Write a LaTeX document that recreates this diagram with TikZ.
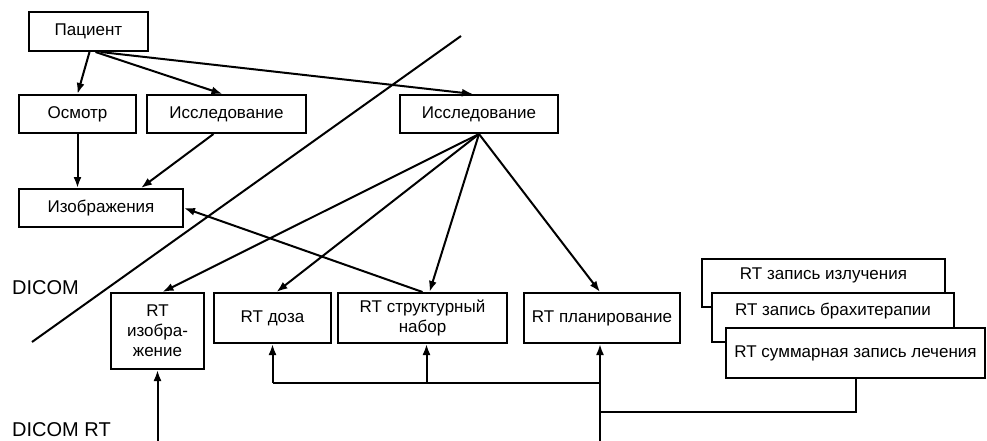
\documentclass[tikz,border=0pt]{standalone}
\usepackage{fontspec}
\setmainfont{Liberation Sans}
\usetikzlibrary{arrows.meta,calc}
\begin{document}
\tikzset{
  box/.style={draw, line width=2pt, fill=white, inner sep=0pt, align=center, font=\fontsize{17}{20}\selectfont},
  boxtxt/.style={inner sep=0pt, anchor=center, font=\fontsize{17}{20}\selectfont},
  conn/.style={line width=2pt},
  arr/.style={conn, -{Latex[length=11pt,width=8pt]}},
  lbl/.style={font=\fontsize{20}{24}\selectfont, anchor=west, inner sep=0pt}
}
\begin{tikzpicture}[x=1pt,y=-1pt]
\useasboundingbox (0,0) rectangle (987,441);

% boundary line
\coordinate (d1) at (461,36);
\coordinate (d2) at (32,342);
\draw[conn] (d1) -- (d2);

\node[box, minimum width=119pt, minimum height=39pt] (pat) at (88.5,31.5) {Пациент};
\node[box, minimum width=117pt, minimum height=38pt] (osm) at (77.5,114) {Осмотр};
\node[box, minimum width=159pt, minimum height=38pt] (iss1) at (226.5,114) {Исследование};
\node[box, minimum width=158pt, minimum height=38pt] (iss2) at (479,114) {Исследование};
\node[box, minimum width=164pt, minimum height=38pt] (izo) at (101,208) {Изображения};

\node[box, minimum width=93pt, minimum height=76pt] (rtimg) at (157.5,331) {RT\\изобра-\\жение};
\node[box, minimum width=117pt, minimum height=50pt] (rtdose) at (272.5,318) {RT доза};
\node[box, minimum width=169pt, minimum height=50pt] (rtstruct) at (422.5,318) {RT структурный\\набор};
\node[box, minimum width=156pt, minimum height=50pt] (rtplan) at (602,318) {RT планирование};

\node[box, minimum width=243pt, minimum height=48pt,
  label={[boxtxt, yshift=-17.5pt]north:RT запись излучения}] (rec1) at (823.5,283) {};
\node[box, minimum width=242pt, minimum height=49pt,
  label={[boxtxt, yshift=-19pt]north:RT запись брахитерапии}] (rec2) at (833,317.5) {};
\node[box, minimum width=259pt, minimum height=50pt] (rec3) at (855.5,353) {RT суммарная запись лечения};

\node[lbl] (dicom) at (12,288) {DICOM};
\node[lbl] (dicomrt) at (12,430) {DICOM RT};

% patient connectors
\draw[arr] ($(pat.south)+(1,0)$) -- (osm.north);
\draw[arr] ($(pat.south)+(7,0)$) -- ($(iss1.north)+(-4,0)$);
\draw[arr] ($(pat.south)+(12,0)$) -- ($(iss2.north)+(-6,0)$);
\draw[arr] (osm.south) -- (osm.south |- izo.north);
\draw[arr] ($(iss1.south)+(-13,0)$) -- ($(izo.north)+(40,0)$);

% study fan
\draw[arr] (iss2.south) -- ($(rtimg.north)+(5,0)$);
\draw[arr] (iss2.south) -- ($(rtdose.north)+(4,0)$);
\draw[arr] (iss2.south) -- ($(rtstruct.north)+(7,0)$);
\draw[arr] (iss2.south) -- ($(rtplan.north)+(-2,0)$);
\draw[arr] (rtstruct.north) -- (izo.east);

% bottom connectors
\coordinate (bimg) at (157.5,441);
\coordinate (bplan) at (600,441);
\coordinate (h1) at (272.5,383);
\coordinate (h2) at (600,383);
\coordinate (h3) at (600,412);
\coordinate (h4) at (426.5,383);
\draw[arr] (bimg) -- (rtimg.south);
\draw[arr] (bplan) -- (bplan |- rtplan.south);
\draw[conn] (h1) -- (h2);
\draw[arr] (h1) -- (rtdose.south);
\draw[arr] (h4) -- (h4 |- rtstruct.south);
\draw[conn] (rec3.south) |- (h3);
\end{tikzpicture}
\end{document}
